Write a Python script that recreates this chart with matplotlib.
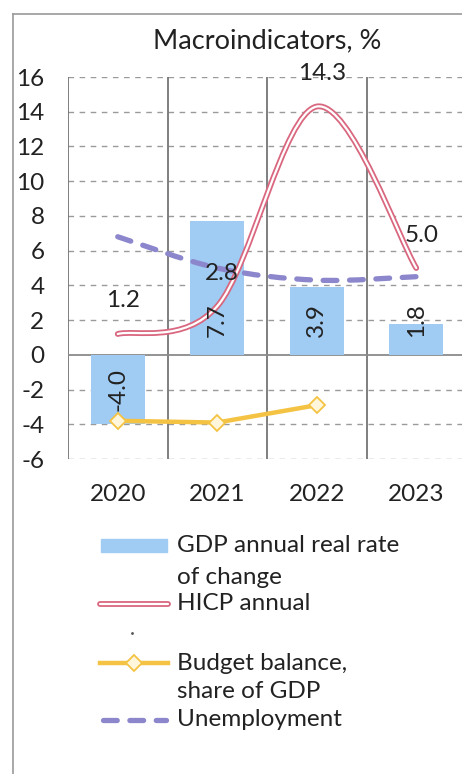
import matplotlib as mpl
mpl.use('Agg')
import matplotlib.pyplot as plt
import numpy as np
from matplotlib.path import Path
from matplotlib.patches import PathPatch, Rectangle
from matplotlib.lines import Line2D

plt.rcParams['font.family'] = ['Lato', 'DejaVu Sans']
plt.rcParams['axes.unicode_minus'] = False

years = ['2020', '2021', '2022', '2023']
gdp = [-4.0, 7.7, 3.9, 1.8]
hicp = [1.2, 2.8, 14.3, 5.0]
budget = [-3.8, -3.9, -2.9]
unemp = [6.8, 5.0, 4.3, 4.5]

BLUE = '#a0cbf3'
RED = '#d9677f'
YELLOW = '#f5c343'
PURPLE = '#8c87cc'
TXT = '#222222'
FS = 17.5
W, H = 462, 774


def smooth_path(xs, ys):
    # excel style smoothed line as bezier path (drawn by matplotlib itself)
    pts = np.column_stack([xs, ys]).astype(float)
    n = len(pts)
    verts = [pts[0]]
    codes = [Path.MOVETO]
    for i in range(n - 1):
        p0 = pts[max(i - 1, 0)]
        p1 = pts[i]
        p2 = pts[i + 1]
        p3 = pts[min(i + 2, n - 1)]
        c1 = p1 + (p2 - p0) / 6.0
        c2 = p2 - (p3 - p1) / 6.0
        verts += [c1, c2, p2]
        codes += [Path.CURVE4] * 3
    return Path(verts, codes)


def fx(px):
    return px / W


def fy(py):
    return 1 - py / H


fig = plt.figure(figsize=(W / 100, H / 100), dpi=100)
ax = fig.add_axes([fx(68), fy(459), (466 - 68) / W, (459 - 77) / H])
x = np.arange(len(years))

# grid
for yv in range(-6, 17, 2):
    if yv == 0:
        continue
    ax.axhline(yv, color='#9a9a9a', lw=1.0, ls=(0, (4, 4)), zorder=0)
for xv in [-0.5, 0.5, 1.5, 2.5]:
    ax.axvline(xv, color='#6a6a6a', lw=1.2, zorder=0)
ax.axhline(0, color='#8a8a8a', lw=1.3, zorder=1)

ax.bar(x, gdp, width=0.54, color=BLUE, zorder=2)
for i, v in enumerate(gdp):
    ax.text(i, np.sign(v) * 2, f'{v:.1f}', rotation=90, ha='center', va='center',
            fontsize=FS, color=TXT, zorder=6)

hp = smooth_path(x, hicp)
ax.add_patch(PathPatch(hp, fill=False, ec=RED, lw=4.2, capstyle='round', zorder=3))
ax.add_patch(PathPatch(hp, fill=False, ec='white', lw=1.6, capstyle='round', zorder=3))
for i, v in enumerate(hicp):
    ax.text(i + 0.05, v + 1.9, f'{v:.1f}', ha='center', va='center', fontsize=FS,
            color=TXT, zorder=6)

ax.plot(x[:len(budget)], budget, color=YELLOW, lw=3.2, marker='D', ms=8,
        mfc='#fff6dc', mec=YELLOW, mew=1.3, zorder=4)

up = smooth_path(x, unemp)
ax.add_patch(PathPatch(up, fill=False, ec=PURPLE, lw=3.8, ls=(0, (2.6, 2.4)),
                       capstyle='round', zorder=4))

ax.set_xlim(-0.5, 3.5)
ax.set_ylim(-6, 16)
ax.set_yticks(range(-6, 17, 2))
ax.set_xticks(x)
ax.set_xticklabels(years)
ax.tick_params(axis='y', length=0, pad=17, labelsize=FS, labelcolor=TXT)
ax.tick_params(axis='x', length=0, pad=18, labelsize=FS, labelcolor=TXT)
for s in ax.spines.values():
    s.set_visible(False)
ax.set_title('Macroindicators, %', fontsize=19.5, color=TXT, pad=21)

# legend, laid out by hand like the original
tx = fx(177)
for label, yy in [('GDP annual real rate', 546), ('of change', 577), ('HICP annual', 604),
                  ('Budget balance,', 663), ('share of GDP', 692), ('Unemployment', 720)]:
    fig.text(tx, fy(yy), label, fontsize=FS, color=TXT, va='center', ha='left')

fig.add_artist(Rectangle((fx(101), fy(552)), (167 - 101) / W, 13 / H, color=BLUE,
                         transform=fig.transFigure))
fig.add_artist(Line2D([fx(100), fx(168)], [fy(604), fy(604)], color=RED, lw=4.2,
                      solid_capstyle='round'))
fig.add_artist(Line2D([fx(100), fx(168)], [fy(604), fy(604)], color='white', lw=1.6,
                      solid_capstyle='round'))
fig.add_artist(Line2D([fx(132)], [fy(633)], ls='none', marker='.', ms=2, color='#555555'))
fig.add_artist(Line2D([fx(100), fx(134), fx(168)], [fy(663)] * 3, color=YELLOW, lw=3.2,
                      marker='D', ms=8, markevery=[1], mfc='#fff6dc', mec=YELLOW, mew=1.3))
fig.add_artist(Line2D([fx(103), fx(166)], [fy(720), fy(720)], color=PURPLE, lw=3.8,
                      ls=(0, (2.6, 2.4)), dash_capstyle='round'))

# outer frame of the original
fig.add_artist(Line2D([fx(13), fx(13)], [0, fy(14)], color='#9a9a9a', lw=1.2))
fig.add_artist(Line2D([fx(13), 1], [fy(14), fy(14)], color='#9a9a9a', lw=1.2))

fig.savefig('out.png', dpi=100)
